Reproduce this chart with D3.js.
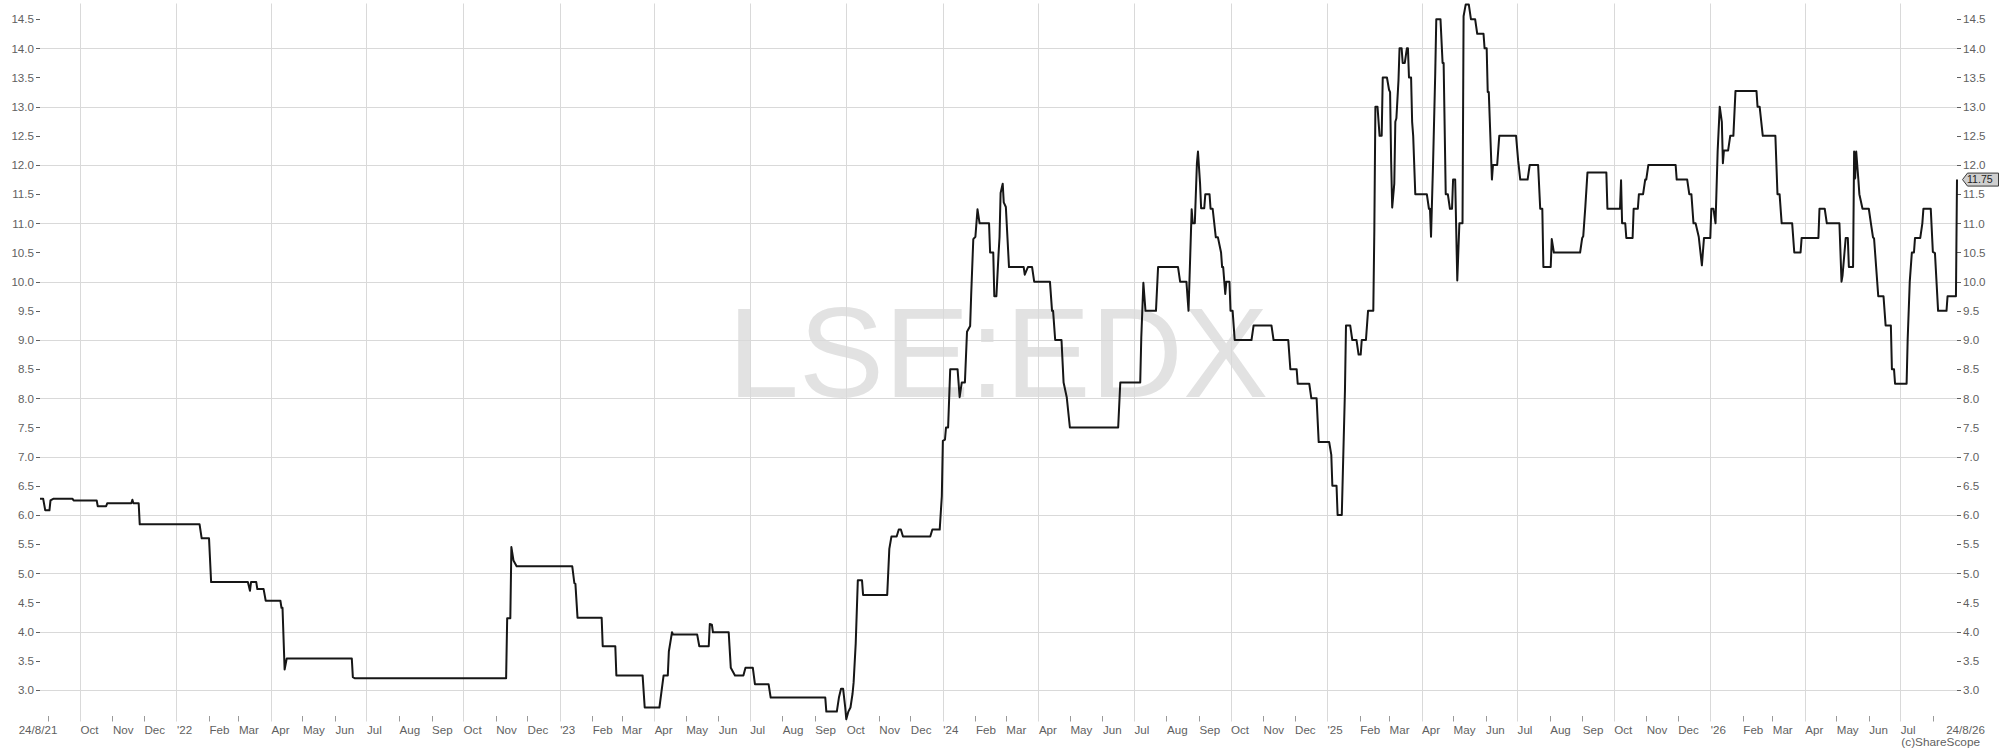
<!DOCTYPE html>
<html><head><meta charset="utf-8">
<script src="https://cdn.jsdelivr.net/npm/d3@7"></script>
<style>
body{margin:0;background:#fff;}
svg{display:block;}
text{font-family:"Liberation Sans",Arial,sans-serif;}
</style>
</head><body>
<svg id="chart" width="2000" height="751"></svg>
<script>
// ---------- DATA ----------
const symbol = "LSE:EDX";
const startLabel = "24/8/21";
const endLabel = "24/8/26";
const credit = "(c)ShareScope";
const lastPriceLabel = "11.75";
const yTickValues = [3.0,3.5,4.0,4.5,5.0,5.5,6.0,6.5,7.0,7.5,8.0,8.5,9.0,9.5,10.0,10.5,11.0,11.5,12.0,12.5,13.0,13.5,14.0,14.5];
const yGridValues = [3,4,5,6,7,8,9,10,11,12,13,14];

const dates = [
"2021-08-24","2021-08-27","2021-08-29","2021-09-02","2021-09-03","2021-09-06","2021-09-24","2021-09-25","2021-10-17","2021-10-18",
"2021-10-26","2021-10-27","2021-11-19","2021-11-20","2021-11-21","2021-11-26","2021-11-27","2022-01-23","2022-01-25","2022-02-01",
"2022-02-03","2022-03-10","2022-03-12","2022-03-13","2022-03-18","2022-03-19","2022-03-25","2022-03-27","2022-04-10","2022-04-11",
"2022-04-12","2022-04-14","2022-04-16","2022-06-17","2022-06-18","2022-06-20","2022-11-11","2022-11-12","2022-11-15","2022-11-16",
"2022-11-18","2022-11-21","2023-01-13","2023-01-15","2023-01-16","2023-01-18","2023-02-10","2023-02-11","2023-02-23","2023-02-24",
"2023-03-21","2023-03-23","2023-04-06","2023-04-10","2023-04-14","2023-04-15","2023-04-17","2023-04-18","2023-04-19","2023-05-12",
"2023-05-14","2023-05-23","2023-05-24","2023-05-26","2023-05-27","2023-06-11","2023-06-13","2023-06-17","2023-06-25","2023-06-27",
"2023-07-04","2023-07-06","2023-07-19","2023-07-21","2023-09-11","2023-09-12","2023-09-22","2023-09-24","2023-09-26","2023-09-28",
"2023-09-30","2023-10-01","2023-10-03","2023-10-05","2023-10-07","2023-10-08","2023-10-10","2023-10-12","2023-10-16","2023-10-17",
"2023-11-09","2023-11-11","2023-11-13","2023-11-18","2023-11-20","2023-11-22","2023-11-24","2023-12-20","2023-12-22","2023-12-29",
"2023-12-31","2024-01-01","2024-01-03","2024-01-04","2024-01-06","2024-01-08","2024-01-15","2024-01-17","2024-01-19","2024-01-22",
"2024-01-24","2024-01-27","2024-01-28","2024-01-30","2024-02-01","2024-02-03","2024-02-05","2024-02-14","2024-02-15","2024-02-18",
"2024-02-19","2024-02-21","2024-02-23","2024-02-24","2024-02-25","2024-02-27","2024-02-28","2024-03-01","2024-03-04","2024-03-18",
"2024-03-19","2024-03-22","2024-03-26","2024-03-28","2024-04-12","2024-04-14","2024-04-15","2024-04-17","2024-04-23","2024-04-25",
"2024-04-28","2024-05-01","2024-06-16","2024-06-18","2024-07-07","2024-07-08","2024-07-10","2024-07-12","2024-07-22","2024-07-24",
"2024-08-12","2024-08-14","2024-08-20","2024-08-22","2024-08-25","2024-08-26","2024-08-28","2024-08-30","2024-08-31","2024-09-02",
"2024-09-03","2024-09-06","2024-09-07","2024-09-11","2024-09-12","2024-09-14","2024-09-17","2024-09-19","2024-09-22","2024-09-23",
"2024-09-24","2024-09-26","2024-09-27","2024-09-30","2024-10-01","2024-10-03","2024-10-05","2024-10-21","2024-10-23","2024-11-09",
"2024-11-11","2024-11-25","2024-11-27","2024-12-03","2024-12-04","2024-12-15","2024-12-17","2024-12-22","2024-12-24","2025-01-03",
"2025-01-05","2025-01-06","2025-01-10","2025-01-11","2025-01-15","2025-01-16","2025-01-18","2025-01-19","2025-01-23","2025-01-25",
"2025-01-29","2025-01-31","2025-02-02","2025-02-03","2025-02-07","2025-02-09","2025-02-14","2025-02-15","2025-02-16","2025-02-18",
"2025-02-20","2025-02-22","2025-02-23","2025-02-27","2025-03-01","2025-03-02","2025-03-03","2025-03-04","2025-03-06","2025-03-07",
"2025-03-08","2025-03-10","2025-03-11","2025-03-13","2025-03-14","2025-03-16","2025-03-18","2025-03-19","2025-03-20","2025-03-22",
"2025-03-23","2025-03-24","2025-03-26","2025-04-06","2025-04-08","2025-04-09","2025-04-10","2025-04-12","2025-04-14","2025-04-15",
"2025-04-19","2025-04-21","2025-04-22","2025-04-24","2025-04-26","2025-04-28","2025-04-30","2025-05-01","2025-05-03","2025-05-05",
"2025-05-07","2025-05-10","2025-05-11","2025-05-13","2025-05-16","2025-05-18","2025-05-22","2025-05-24","2025-05-30","2025-05-31",
"2025-06-02","2025-06-03","2025-06-04","2025-06-07","2025-06-08","2025-06-12","2025-06-14","2025-06-30","2025-07-02","2025-07-04",
"2025-07-11","2025-07-13","2025-07-21","2025-07-23","2025-07-25","2025-07-26","2025-08-02","2025-08-03","2025-08-05","2025-08-30",
"2025-09-01","2025-09-02","2025-09-04","2025-09-06","2025-09-24","2025-09-25","2025-10-07","2025-10-08","2025-10-09","2025-10-12",
"2025-10-13","2025-10-19","2025-10-20","2025-10-24","2025-10-25","2025-10-29","2025-10-31","2025-11-01","2025-11-03","2025-11-29",
"2025-11-30","2025-12-10","2025-12-12","2025-12-14","2025-12-16","2025-12-18","2025-12-21","2025-12-24","2025-12-26","2026-01-01",
"2026-01-02","2026-01-04","2026-01-06","2026-01-08","2026-01-10","2026-01-12","2026-01-13","2026-01-14","2026-01-18","2026-01-20",
"2026-01-23","2026-01-25","2026-02-14","2026-02-15","2026-02-17","2026-02-20","2026-03-04","2026-03-06","2026-03-08","2026-03-10",
"2026-03-20","2026-03-22","2026-03-28","2026-03-29","2026-04-14","2026-04-15","2026-04-20","2026-04-22","2026-05-04","2026-05-06",
"2026-05-07","2026-05-10","2026-05-12","2026-05-13","2026-05-17","2026-05-18","2026-05-19","2026-05-20","2026-05-22","2026-05-23",
"2026-05-26","2026-06-01","2026-06-03","2026-06-05","2026-06-06","2026-06-10","2026-06-15","2026-06-17","2026-06-22","2026-06-23",
"2026-06-25","2026-06-26","2026-07-07","2026-07-08","2026-07-10","2026-07-12","2026-07-14","2026-07-15","2026-07-20","2026-07-22",
"2026-07-23","2026-07-30","2026-08-01","2026-08-03","2026-08-06","2026-08-14","2026-08-15","2026-08-23","2026-08-24"
];
const prices = [
6.28,6.28,6.08,6.08,6.25,6.28,6.28,6.25,6.25,6.15,
6.15,6.2,6.2,6.26,6.2,6.2,5.84,5.84,5.6,5.6,
4.85,4.85,4.7,4.85,4.85,4.73,4.73,4.53,4.53,4.41,
4.41,3.35,3.54,3.54,3.22,3.2,3.2,4.23,4.23,5.45,
5.22,5.12,5.12,4.83,4.82,4.24,4.24,3.75,3.75,3.25,
3.25,2.7,2.7,3.25,3.25,3.66,3.88,3.99,3.95,3.95,
3.75,3.75,4.13,4.12,3.99,3.99,3.38,3.25,3.25,3.38,
3.38,3.1,3.1,2.87,2.87,2.63,2.63,2.87,3.02,3.02,
2.7,2.5,2.63,2.7,2.94,3.13,3.8,4.88,4.88,4.63,
4.63,5.42,5.63,5.63,5.75,5.75,5.63,5.63,5.75,5.75,
6.32,7.27,7.29,7.5,7.5,8.5,8.5,8.02,8.27,8.27,
9.14,9.24,9.79,10.73,10.77,11.24,11.0,11.0,10.5,10.5,
9.75,9.75,10.46,10.77,11.52,11.68,11.36,11.28,10.25,10.25,
10.12,10.25,10.25,10.0,10.0,9.5,9.5,9.0,9.0,8.27,
8.02,7.5,7.5,8.27,8.27,9.04,9.98,9.5,9.5,10.25,
10.25,10.0,10.0,9.5,11.24,11.0,11.0,12.03,12.23,11.68,
11.26,11.26,11.5,11.5,11.25,11.25,10.76,10.76,10.5,10.25,
10.25,9.79,10.0,10.0,9.5,9.5,9.0,9.0,9.25,9.25,
9.0,9.0,8.5,8.5,8.25,8.25,8.0,8.0,7.25,7.25,
7.03,6.5,6.5,6.0,6.0,6.72,8.13,9.25,9.25,9.0,
9.0,8.75,8.75,9.0,9.0,9.5,9.5,10.89,13.0,13.0,
12.5,12.5,13.5,13.5,13.29,13.25,12.07,11.27,11.68,12.74,
12.8,13.45,14.0,14.0,13.75,13.75,14.0,14.0,13.5,13.5,
12.74,12.5,11.5,11.5,11.25,11.25,10.77,12.07,13.57,14.5,
14.5,13.75,13.75,11.5,11.5,11.25,11.25,11.75,11.75,10.02,
11.0,11.0,14.55,14.75,14.75,14.5,14.5,14.25,14.25,14.0,
14.0,13.25,13.25,11.75,12.0,12.0,12.5,12.5,12.07,11.75,
11.75,12.0,12.0,11.25,11.25,10.25,10.25,10.73,10.5,10.5,
10.75,10.78,11.29,11.87,11.87,11.25,11.25,11.74,11.0,11.0,
10.75,10.75,11.25,11.25,11.5,11.5,11.75,11.75,12.0,12.0,
11.75,11.75,11.5,11.5,11.0,11.0,10.77,10.28,10.75,10.75,
11.25,11.25,11.0,12.23,13.0,12.74,12.03,12.25,12.25,12.5,
12.5,13.27,13.27,13.0,13.0,12.5,12.5,11.5,11.5,11.0,
11.0,10.5,10.5,10.75,10.75,11.25,11.25,11.0,11.0,10.0,
10.11,10.75,10.75,10.25,10.25,12.23,11.77,12.23,11.76,11.5,
11.25,11.25,11.0,10.76,10.74,9.75,9.75,9.25,9.25,8.5,
8.5,8.25,8.25,9.0,10.0,10.5,10.5,10.75,10.75,11.0,
11.25,11.25,10.51,10.49,9.5,9.5,9.75,9.75,11.75
];

// ---------- CHART ----------
const parse = d3.timeParse("%Y-%m-%d");
const series = dates.map((d,i)=>({date:parse(d), value:prices[i]}));

const svg = d3.select("#chart");
svg.append("rect").attr("width",2000).attr("height",751).attr("fill","#fff");

const x = d3.scaleTime().domain([new Date(2021,7,24), new Date(2026,7,24)]).range([40,1957]);
const y = d3.scaleLinear().domain([3,14]).range([690,48.33]);
const px = v => Math.round(v)+0.5;

const gridColor = "#d9d9d9";
const textColor = "#5f5f5f";

// watermark
svg.append("text").attr("x",998).attr("y",397).attr("text-anchor","middle")
  .attr("font-size",128).attr("fill","#e2e2e2").text(symbol);

// horizontal gridlines
svg.append("g").selectAll("line").data(yGridValues).join("line")
  .attr("x1",40).attr("x2",1957)
  .attr("y1",d=>px(y(d))).attr("y2",d=>px(y(d)))
  .attr("stroke",gridColor).attr("stroke-width",1);

// month ticks
const months = d3.timeMonth.range(new Date(2021,8,1), new Date(2026,7,2));
const quarterly = months.filter(m=>m.getMonth()%3===0);
svg.append("g").selectAll("line").data(quarterly).join("line")
  .attr("x1",d=>px(x(d))).attr("x2",d=>px(x(d)))
  .attr("y1",3.5).attr("y2",721.5)
  .attr("stroke",gridColor).attr("stroke-width",1);
svg.append("g").selectAll("line").data(months.filter(m=>m.getMonth()%3!==0)).join("line")
  .attr("x1",d=>px(x(d))).attr("x2",d=>px(x(d)))
  .attr("y1",716).attr("y2",721.5)
  .attr("stroke","#9a9a9a").attr("stroke-width",1);

const monthFmt = d3.timeFormat("%b"), yearFmt = d3.timeFormat("'%y");
const labelled = months.slice(1, months.length-1);
svg.append("g").selectAll("text").data(labelled).join("text")
  .attr("x",d=>x(d)+0.5).attr("y",733.5)
  .attr("font-size",11.6).attr("fill",textColor)
  .text(d=>d.getMonth()===0 ? yearFmt(d) : monthFmt(d));
svg.append("text").attr("x",38).attr("y",733.5).attr("text-anchor","middle")
  .attr("font-size",11.6).attr("fill",textColor).text(startLabel);
svg.append("text").attr("x",1965.5).attr("y",733.5).attr("text-anchor","middle")
  .attr("font-size",11.6).attr("fill",textColor).text(endLabel);
svg.append("text").attr("x",1980).attr("y",746).attr("text-anchor","end")
  .attr("font-size",11.8).attr("fill",textColor).text(credit);

// y axes (left and right)
const fmt = d3.format(".1f");
const ly = svg.append("g");
ly.selectAll("line").data(yTickValues).join("line")
  .attr("x1",36).attr("x2",40).attr("y1",d=>px(y(d))).attr("y2",d=>px(y(d)))
  .attr("stroke",textColor);
ly.selectAll("text").data(yTickValues).join("text")
  .attr("x",34).attr("y",d=>y(d)).attr("dy","0.36em").attr("text-anchor","end")
  .attr("font-size",11.6).attr("fill",textColor).text(d=>fmt(d));
const ry = svg.append("g");
ry.selectAll("line").data(yTickValues).join("line")
  .attr("x1",1957).attr("x2",1961).attr("y1",d=>px(y(d))).attr("y2",d=>px(y(d)))
  .attr("stroke",textColor);
ry.selectAll("text").data(yTickValues).join("text")
  .attr("x",1963).attr("y",d=>y(d)).attr("dy","0.36em").attr("text-anchor","start")
  .attr("font-size",11.6).attr("fill",textColor).text(d=>fmt(d));

// price line
const line = d3.line().x(d=>x(d.date)).y(d=>y(d.value));
svg.append("path").datum(series).attr("d",line)
  .attr("fill","none").attr("stroke","#161616").attr("stroke-width",2)
  .attr("stroke-linejoin","round");

// last price label
const last = series[series.length-1];
const ly0 = y(last.value);
const bx = 1962.5;
svg.append("path")
  .attr("d",`M${bx},${ly0} L${bx+5},${ly0-6.5} L1998.5,${ly0-6.5} L1998.5,${ly0+6.5} L${bx+5},${ly0+6.5} Z`)
  .attr("fill","#cfcfcf").attr("stroke","#3a3a3a").attr("stroke-width",1);
svg.append("text").attr("x",1967).attr("y",ly0).attr("dy","0.36em")
  .attr("font-size",10.6).attr("fill","#222").text(lastPriceLabel);
</script>
</body></html>
